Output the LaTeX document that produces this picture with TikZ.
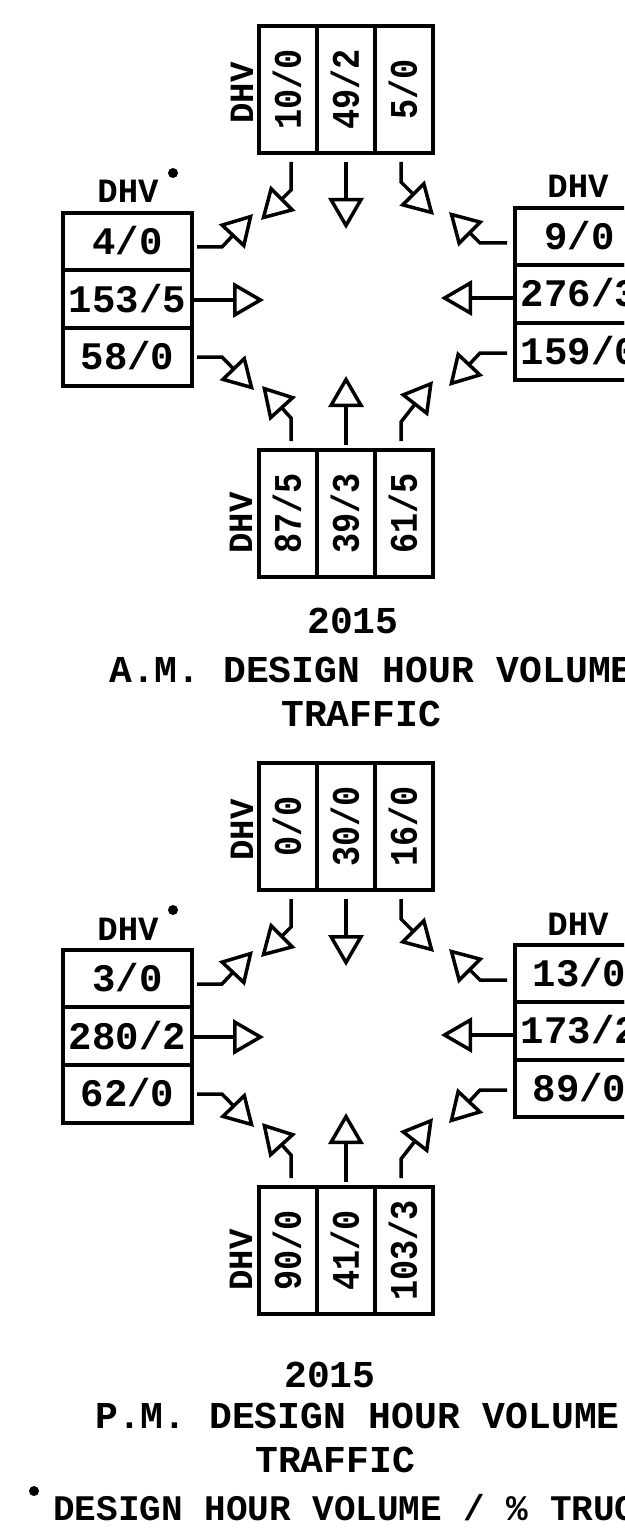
\documentclass[tikz,border=0pt]{standalone}
\usepackage{fontspec}
\usepackage{graphicx}
\setmainfont{Liberation Mono}[BoldFont={Liberation Mono Bold}]
\usetikzlibrary{arrows.meta}

\newcommand\sq[1]{\scalebox{0.86}[1]{#1}}
\newcommand\setvalsA[6]{\def\vTa{#1}\def\vTb{#2}\def\vTc{#3}\def\vLa{#4}\def\vLb{#5}\def\vLc{#6}}
\newcommand\setvalsB[6]{\def\vRa{#1}\def\vRb{#2}\def\vRc{#3}\def\vBa{#4}\def\vBb{#5}\def\vBc{#6}}

\tikzset{
  cell/.style={draw, line width=3.8pt, inner sep=0pt,
    font=\bfseries\fontsize{39}{39}\selectfont, text height=25.7pt, text depth=0pt},
  hcell/.style={cell, minimum width=129pt, minimum height=57.7pt},
  vcell/.style={cell, rotate=90, minimum width=127pt, minimum height=58pt},
  lbl/.style={inner sep=0pt, font=\bfseries\fontsize{34}{34}\selectfont},
  ttl/.style={inner sep=0pt, anchor=base west, font=\bfseries\fontsize{38}{38}\selectfont},
  foot/.style={inner sep=0pt, anchor=base west, font=\bfseries\fontsize{36}{36}\selectfont},
  flow/.style={line width=3.5pt,
    -{Triangle[open, length=31pt, width=35pt, line width=3.5pt]}},
}

% #1 prefix, #2 vertical offset
\newcommand\junction[2]{%
\begin{scope}[shift={(0,#2)}]
  % top approach
  \node[vcell] (#1-t1) at (288,89.5) {\sq{\vTa}};
  \node[vcell] (#1-t2) at (346,89.5) {\sq{\vTb}};
  \node[vcell] (#1-t3) at (404,89.5) {\sq{\vTc}};
  \node[lbl, rotate=90, anchor=base] (#1-tdhv) at (253,93) {DHV};
  % bottom approach
  \node[vcell] (#1-b1) at (288,513.5) {\sq{\vBa}};
  \node[vcell] (#1-b2) at (346,513.5) {\sq{\vBb}};
  \node[vcell] (#1-b3) at (404,513.5) {\sq{\vBc}};
  \node[lbl, rotate=90, anchor=base] (#1-bdhv) at (252,523) {DHV};
  % left approach
  \node[hcell] (#1-l1) at (127.5,241.5) {\vLa};
  \node[hcell] (#1-l2) at (127.5,299.2) {\vLb};
  \node[hcell] (#1-l3) at (127.5,356.9) {\vLc};
  \node[lbl, anchor=base] (#1-ldhv) at (128,203) {DHV};
  \fill (173,173) circle[radius=5pt];
  % right approach
  \node[hcell, minimum height=57.3pt] (#1-r1) at (579.5,236.7) {\vRa};
  \node[hcell, minimum height=57.3pt] (#1-r2) at (579.5,294) {\vRb};
  \node[hcell, minimum height=57.3pt] (#1-r3) at (579.5,351.3) {\vRc};
  \node[lbl, anchor=base] (#1-rdhv) at (578,198) {DHV};
  % arrow coordinates
  \coordinate (#1-t1s) at (291,162); \coordinate (#1-t1k) at (291,190); \coordinate (#1-t1e) at (261,220);
  \coordinate (#1-t2s) at (346,162); \coordinate (#1-t2e) at (346,229);
  \coordinate (#1-t3s) at (401,162); \coordinate (#1-t3k) at (401,182); \coordinate (#1-t3e) at (434,215);
  \coordinate (#1-l1s) at (197,247); \coordinate (#1-l1k) at (222,247); \coordinate (#1-l1e) at (253,214);
  \coordinate (#1-l2e) at (264,300);
  \coordinate (#1-l3s) at (197,357); \coordinate (#1-l3k) at (222,357); \coordinate (#1-l3e) at (254,390);
  \coordinate (#1-r1s) at (507,243); \coordinate (#1-r1k) at (480,243); \coordinate (#1-r1e) at (449,212);
  \coordinate (#1-r2e) at (441,298);
  \coordinate (#1-r3s) at (507,353); \coordinate (#1-r3k) at (480,353); \coordinate (#1-r3e) at (449,386);
  \coordinate (#1-b1s) at (291,441); \coordinate (#1-b1k) at (291,418); \coordinate (#1-b1e) at (262,386);
  \coordinate (#1-b2s) at (346,445); \coordinate (#1-b2e) at (346,376);
  \coordinate (#1-b3s) at (401,441); \coordinate (#1-b3k) at (401,422); \coordinate (#1-b3e) at (433,381);
  % arrows
  \draw[flow] (#1-t1s) -- (#1-t1k) -- (#1-t1e);
  \draw[flow] (#1-t2s) -- (#1-t2e);
  \draw[flow] (#1-t3s) -- (#1-t3k) -- (#1-t3e);
  \draw[flow] (#1-l1s) -- (#1-l1k) -- (#1-l1e);
  \draw[flow] (#1-l2.east |- #1-l2e) -- (#1-l2e);
  \draw[flow] (#1-l3s) -- (#1-l3k) -- (#1-l3e);
  \draw[flow] (#1-r1s) -- (#1-r1k) -- (#1-r1e);
  \draw[flow] (#1-r2.west |- #1-r2e) -- (#1-r2e);
  \draw[flow] (#1-r3s) -- (#1-r3k) -- (#1-r3e);
  \draw[flow] (#1-b1s) -- (#1-b1k) -- (#1-b1e);
  \draw[flow] (#1-b2s) -- (#1-b2e);
  \draw[flow] (#1-b3s) -- (#1-b3k) -- (#1-b3e);
\end{scope}}

\begin{document}
\begin{tikzpicture}[x=1pt, y=-1pt]
  \useasboundingbox (0,0) rectangle (624,1530);
  \fill[white] (0,0) rectangle (624,1530);
  \clip (0,0) rectangle (624,1530);

  \setvalsA{10/0}{49/2}{5/0}{4/0}{153/5}{58/0}
  \setvalsB{9/0}{276/3}{159/0}{87/5}{39/3}{61/5}
  \junction{am}{0}

  \node[ttl] (am-year)  at (307,633) {2015};
  \node[ttl] (am-title) at (109,682) {A.M. DESIGN HOUR VOLUME};
  \node[ttl] (am-traf)  at (281,726) {TRAFFIC};

  \setvalsA{0/0}{30/0}{16/0}{3/0}{280/2}{62/0}
  \setvalsB{13/0}{173/2}{89/0}{90/0}{41/0}{103/3}
  \junction{pm}{737}

  \node[ttl] (pm-year)  at (284,1387) {2015};
  \node[ttl] (pm-title) at (95,1428) {P.M. DESIGN HOUR VOLUME};
  \node[ttl] (pm-traf)  at (255,1472) {TRAFFIC};

  \fill (34,1491) circle[radius=5pt];
  \node[foot] (note) at (53,1520) {DESIGN HOUR VOLUME / \% TRUCKS};
\end{tikzpicture}
\end{document}
